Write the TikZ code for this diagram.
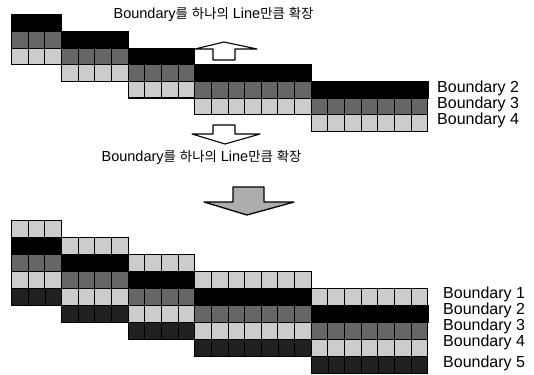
\documentclass[tikz,border=0pt]{standalone}
\usepackage{fontspec}
\setmainfont{Liberation Sans}
\newfontfamily\kr{Noto Sans CJK KR}[Scale=0.92]
\usepackage{tikz}
\usetikzlibrary{positioning}
\definecolor{darkcell}{gray}{0.40}
\definecolor{lightcell}{gray}{0.80}
\definecolor{deepcell}{gray}{0.13}
\definecolor{arrowgray}{gray}{0.68}
\newcommand{\cw}{16.65}
\tikzset{
  blackrow/.style={fill=black, draw=black},
  darkrow/.style={fill=darkcell, draw=black, line width=0.9pt},
  lightrow/.style={fill=lightcell, draw=black, line width=0.9pt},
  deeprow/.style={fill=deepcell, draw=black, line width=0.6pt},
  blockline/.style={draw=black, line width=1pt},
  hollowarrow/.style={draw=black, fill=white, line width=1.1pt, line join=round},
  grayarrow/.style={draw=black, fill=arrowgray, line width=1.3pt, line join=round},
  headtext/.style={font=\fontsize{14.5}{16}\selectfont, inner sep=0pt},
  bndlabel/.style={anchor=west, font=\fontsize{16}{18}\selectfont, inner sep=0pt}
}
% one row of square cells: style, left x, top y, number of cells, row height
\newcommand{\cellrow}[5]{%
  \foreach \i in {1,...,#4}
    \draw[#1] ({#2+(\i-1)*\cw},#3) rectangle ++(\cw,#5);
}

\begin{document}
\begin{tikzpicture}[x=1pt, y=-1pt]
\useasboundingbox (0,0) rectangle (534,374);

% upper stair: 3 lines per block
\foreach \xs/\n/\yt in {11.5/3/15, 61.45/4/31.6, 128.05/4/48.2, 194.65/7/64.8, 311.2/7/81.4} {
  \pgfmathsetmacro\bw{\n*\cw}
  \fill[blackrow] (\xs,\yt) rectangle ++(\bw,16.6);
  \cellrow{darkrow}{\xs}{\yt+16.6}{\n}{16.6}
  \cellrow{lightrow}{\xs}{\yt+33.2}{\n}{16.6}
  \draw[blockline] (\xs,\yt) rectangle ++(\bw,49.8);
}

% lower stair: 5 lines per block
\foreach \xs/\n/\yt in {11.5/3/220, 61.45/4/237, 128.05/4/254, 194.65/7/271, 311.2/7/288} {
  \pgfmathsetmacro\bw{\n*\cw}
  \cellrow{lightrow}{\xs}{\yt}{\n}{17}
  \fill[blackrow] (\xs,\yt+17) rectangle ++(\bw,17);
  \cellrow{darkrow}{\xs}{\yt+34}{\n}{17}
  \cellrow{lightrow}{\xs}{\yt+51}{\n}{17}
  \cellrow{deeprow}{\xs}{\yt+68}{\n}{17}
  \draw[blockline] (\xs,\yt) rectangle ++(\bw,85);
}

\node[headtext] (topnote) at (213.5,14) {Boundary{\kr 를} {\kr 하나의} Line{\kr 만큼} {\kr 확장}};
\node[headtext] (midnote) at (201.5,157) {Boundary{\kr 를} {\kr 하나의} Line{\kr 만큼} {\kr 확장}};

\node[bndlabel] (ub2) at (437,88) {Boundary 2};
\node[bndlabel] (ub3) at (437,104) {Boundary 3};
\node[bndlabel] (ub4) at (437,120) {Boundary 4};

\node[bndlabel] (lb1) at (443,294) {Boundary 1};
\node[bndlabel] (lb2) at (443,310) {Boundary 2};
\node[bndlabel] (lb3) at (443,326) {Boundary 3};
\node[bndlabel] (lb4) at (443,342) {Boundary 4};
\node[bndlabel] (lb5) at (443,363) {Boundary 5};

% block arrows
\draw[hollowarrow] (224,42) -- (257,49) -- (235,49) -- (235,60) -- (213,60) -- (213,49) -- (195,49) -- cycle;
\draw[hollowarrow] (213,125) -- (235,125) -- (235,134) -- (260,134) -- (225,144) -- (192,134) -- (213,134) -- cycle;
\draw[grayarrow] (233,187) -- (264,187) -- (264,202) -- (294,202) -- (247,215) -- (204,202) -- (233,202) -- cycle;
\end{tikzpicture}
\end{document}
